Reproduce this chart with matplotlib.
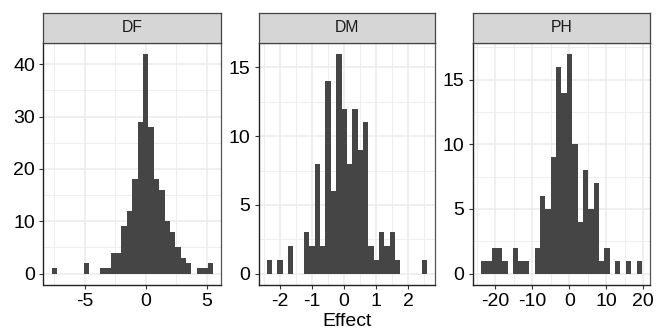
import matplotlib
matplotlib.use("Agg")
import matplotlib.pyplot as plt
import numpy as np
from matplotlib.ticker import MultipleLocator

plt.rcParams['font.family'] = ['Liberation Sans', 'DejaVu Sans']

panels = ["DF", "DM", "PH"]

df_counts = [1, 0, 0, 0, 0, 0, 2, 0, 0, 1, 1, 4, 4, 9, 12, 18, 29, 42, 28, 18,
             16, 10, 8, 5, 3, 2, 0, 1, 1, 2]
dm_counts = [1, 0, 1, 0, 2, 0, 0, 3, 2, 8, 2, 14, 6, 16, 12, 8, 12, 9, 11, 2,
             1, 3, 2, 3, 1, 0, 0, 0, 0, 1]
ph_counts = [1, 1, 2, 2, 1, 0, 2, 1, 1, 0, 2, 6, 5, 9, 16, 14, 17, 10, 4, 8,
             5, 7, 1, 2, 0, 1, 0, 1, 0, 1]

bin_start = [-7.73, -2.41, -23.94]
bin_width = [0.441, 0.167, 1.455]

x_major = [[-5, 0, 5], [-2, -1, 0, 1, 2], [-20, -10, 0, 10, 20]]
y_major = [[0, 10, 20, 30, 40], [0, 5, 10, 15], [0, 5, 10, 15]]

xlabel = "Effect"

all_counts = [df_counts, dm_counts, ph_counts]

W, H = 662, 331
fig = plt.figure(figsize=(W / 100, H / 100), dpi=100)

lefts = [43.5, 258.6, 472.8]
rights = [221.0, 435.2, 650.0]
p_top, p_bot = 42.7, 284.6
s_top = 13.3

fill_col = "#454545"
grid_col = "#EBEBEB"

for i, name in enumerate(panels):
    l, r = lefts[i], rights[i]
    ax = fig.add_axes([l / W, 1 - p_bot / H, (r - l) / W, (p_bot - p_top) / H])
    counts = np.array(all_counts[i], dtype=float)
    edges = bin_start[i] + bin_width[i] * np.arange(len(counts) + 1)
    ax.stairs(counts, edges, fill=True, color=fill_col, linewidth=0, zorder=3)
    lo, hi = edges[0], edges[-1]
    pad = (hi - lo) * 0.05
    ax.set_xlim(lo - pad, hi + pad)
    ymax = counts.max()
    ax.set_ylim(-0.05 * ymax, ymax * 1.05)
    ax.set_xticks(x_major[i])
    ax.set_yticks(y_major[i])
    xm = x_major[i][1] - x_major[i][0]
    ym = y_major[i][1] - y_major[i][0]
    ax.xaxis.set_minor_locator(MultipleLocator(xm / 2))
    ax.yaxis.set_minor_locator(MultipleLocator(ym / 2))
    ax.grid(which='major', color=grid_col, linewidth=1.1, zorder=0)
    ax.grid(which='minor', color=grid_col, linewidth=0.6, zorder=0)
    ax.set_axisbelow(True)
    ax.tick_params(which='minor', length=0)
    ax.tick_params(which='major', length=3, width=0.8, color='#333333',
                   labelsize=14, labelcolor='black', pad=3)
    ax.set_xticklabels([f"{v:g}" for v in x_major[i]])
    for s in ['left', 'bottom']:
        ax.spines[s].set_color('#222222')
        ax.spines[s].set_linewidth(1.0)
    for s in ['top', 'right']:
        ax.spines[s].set_color('#555555')
        ax.spines[s].set_linewidth(0.9)
    ax.set_facecolor('white')

    sax = fig.add_axes([l / W, 1 - p_top / H, (r - l) / W, (p_top - s_top) / H])
    sax.set_facecolor('#D6D6D6')
    sax.set_xticks([])
    sax.set_yticks([])
    for s in sax.spines.values():
        s.set_color('#444444')
        s.set_linewidth(0.9)
    sax.text(0.5, 0.5, name, ha='center', va='center', fontsize=11.3,
             color='#1A1A1A', transform=sax.transAxes)

fig.text(346.7 / W, 1 - 321.5 / H, xlabel, ha='center', va='center',
         fontsize=14, color='black')

fig.savefig("out.png", dpi=100, facecolor='white')
